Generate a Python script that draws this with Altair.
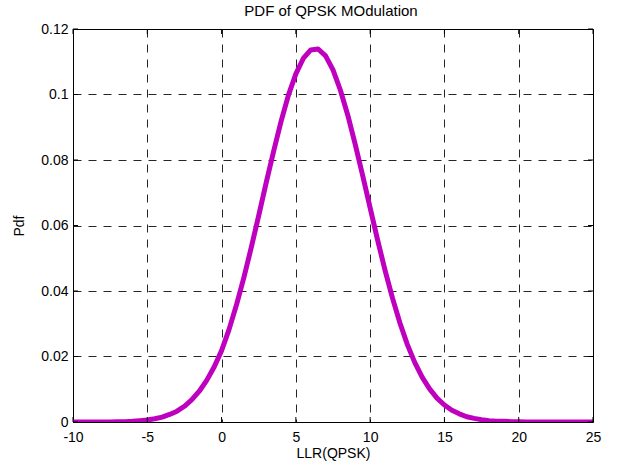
import altair as alt
import pandas as pd

# LLR sample points and the estimated probability density at each of them
llr = [-10, -9.5, -9, -8.5, -8, -7.5, -7, -6.5, -6, -5.5,
       -5, -4.5, -4, -3.5, -3, -2.5, -2, -1.5, -1, -0.5,
       0, 0.5, 1, 1.5, 2, 2.5, 3, 3.5, 4, 4.5,
       5, 5.5, 6, 6.5, 7, 7.5, 8, 8.5, 9, 9.5,
       10, 10.5, 11, 11.5, 12, 12.5, 13, 13.5, 14, 14.5,
       15, 15.5, 16, 16.5, 17, 17.5, 18, 18.5, 19, 19.5,
       20, 20.5, 21, 21.5, 22, 22.5, 23, 23.5, 24, 24.5, 25]
pdf = [0, 0, 0, 0, 0, 0, 0.0001, 0.0001, 0.0002, 0.0004,
       0.0006, 0.0010, 0.0015, 0.0023, 0.0033, 0.0048, 0.0068, 0.0094, 0.0127, 0.0168,
       0.0218, 0.0282, 0.0357, 0.0441, 0.0533, 0.0630, 0.0730, 0.0826, 0.0917, 0.0998,
       0.1063, 0.1110, 0.1136, 0.1139, 0.1118, 0.1075, 0.1013, 0.0936, 0.0847, 0.0752,
       0.0654, 0.0556, 0.0464, 0.0379, 0.0303, 0.0237, 0.0182, 0.0137, 0.0101, 0.0073,
       0.0052, 0.0036, 0.0025, 0.0016, 0.0011, 0.0007, 0.0004, 0.0002, 0.0002, 0.0001,
       0.0001, 0, 0, 0, 0, 0, 0, 0, 0, 0, 0]

x_ticks = [-10, -5, 0, 5, 10, 15, 20, 25]
y_ticks = [0, 0.02, 0.04, 0.06, 0.08, 0.1, 0.12]
title_text = "PDF of QPSK MOdulation"

W, H = 520, 393
FONT = "Liberation Sans"

df = pd.DataFrame({"llr": llr, "pdf": pdf})
xt = pd.DataFrame({"t": x_ticks})
yt = pd.DataFrame({"t": y_ticks})

x_scale = alt.Scale(domain=[-10, 25], nice=False, zero=False)
y_scale = alt.Scale(domain=[0, 0.12], nice=False)

common_axis = dict(
    labelFont=FONT, labelFontSize=14, labelColor="black", labelFlush=False,
    labelOverlap=False,
    titleFont=FONT, titleFontSize=14, titleColor="black", titleFontWeight="normal",
    domain=False, ticks=False,
    grid=True, gridColor="black", gridDash=[8, 7], gridWidth=1, gridOpacity=0.85,
)

curve = alt.Chart(df).mark_line(
    color="#BF00BF", strokeWidth=5, strokeJoin="round", strokeCap="round", clip=True
).encode(
    x=alt.X("llr:Q", scale=x_scale,
            axis=alt.Axis(values=x_ticks, title="LLR(QPSK)",
                          labelExpr="datum.value < 0 ? '-' + format(-datum.value, 'd') : format(datum.value, 'd')",
                          labelPadding=8, titleX=W / 2, titleY=35,
                          titleBaseline="alphabetic", **common_axis)),
    y=alt.Y("pdf:Q", scale=y_scale,
            axis=alt.Axis(values=y_ticks, title="Pdf", format="~g",
                          labelPadding=5, titleX=-50, titleY=H / 2,
                          titleAngle=-90, titleAlign="center",
                          titleBaseline="alphabetic", **common_axis)),
)

# inward tick marks on all four sides of the box
tick_len = 5
xb = alt.Chart(xt).mark_rule(color="black", strokeWidth=1).encode(
    x=alt.X("t:Q", scale=x_scale), y=alt.value(H), y2=alt.value(H - tick_len))
xtop = alt.Chart(xt).mark_rule(color="black", strokeWidth=1).encode(
    x=alt.X("t:Q", scale=x_scale), y=alt.value(0), y2=alt.value(tick_len))
yl = alt.Chart(yt).mark_rule(color="black", strokeWidth=1).encode(
    y=alt.Y("t:Q", scale=y_scale), x=alt.value(0), x2=alt.value(tick_len))
yr = alt.Chart(yt).mark_rule(color="black", strokeWidth=1).encode(
    y=alt.Y("t:Q", scale=y_scale), x=alt.value(W), x2=alt.value(W - tick_len))

# chart title drawn as a text mark above the box
title = alt.Chart(pd.DataFrame({"label": [title_text]})).mark_text(
    font=FONT, fontSize=15, color="black", align="center", baseline="alphabetic"
).encode(x=alt.value(W / 2 - 2), y=alt.value(-13.5), text="label:N")

chart = alt.layer(curve, xb, xtop, yl, yr, title).properties(
    width=W, height=H,
    autosize=alt.AutoSizeParams(type="none"),
    padding={"left": 73, "top": 29, "right": 25, "bottom": 45},
    background="white",
).configure_view(
    stroke="black", strokeWidth=1
)

chart.save("out.html", embed_options={"renderer": "svg", "actions": False})
